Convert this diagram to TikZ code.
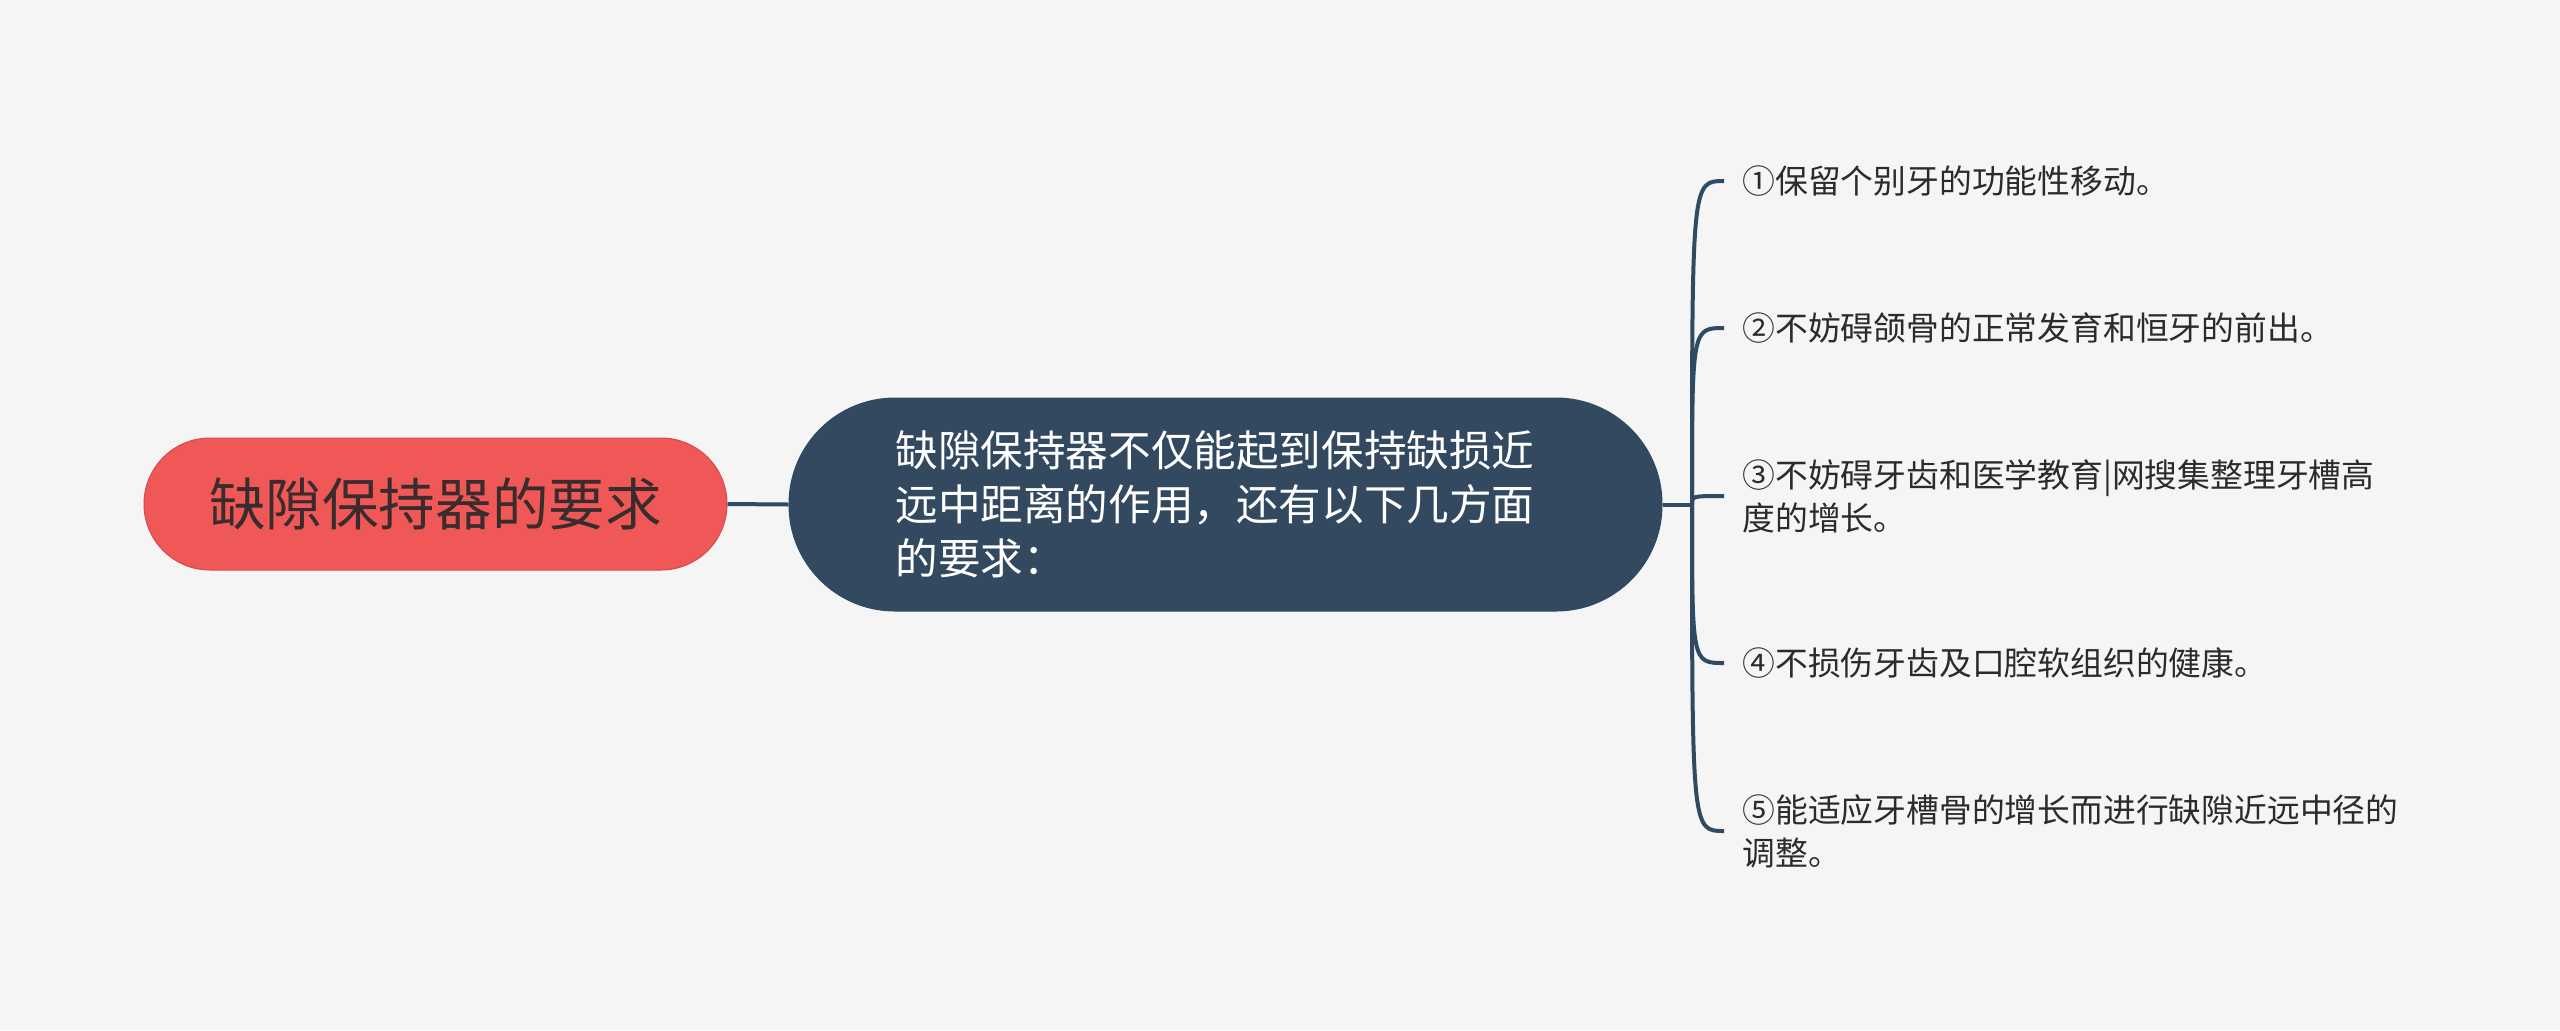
\documentclass[tikz,border=0pt]{standalone}
\usepackage{fontspec}
\setmainfont{Noto Sans CJK SC}
\definecolor{bgc}{HTML}{F5F5F5}
\definecolor{rootfill}{HTML}{F05858}
\definecolor{rootdraw}{HTML}{D94848}
\definecolor{roottext}{HTML}{3A2C2C}
\definecolor{midfill}{HTML}{324960}
\definecolor{linec}{HTML}{2F4A63}
\definecolor{leaftext}{HTML}{2B2B2B}
\begin{document}
\begin{tikzpicture}[x=0.5pt,y=-0.5pt,
  conn/.style={draw=linec,line width=2pt},
  rootbox/.style={rectangle,rounded corners=33pt,fill=rootfill,draw=rootdraw,line width=0.5pt,
    minimum width=291.5pt,minimum height=66pt,inner sep=0pt,text=roottext,
    font=\fontsize{28.3pt}{34pt}\selectfont},
  midbox/.style={rectangle,rounded corners=53pt,fill=midfill,draw=linec,line width=0.5pt,
    minimum width=436.5pt,minimum height=106.5pt,inner sep=0pt,text=white,
    text width=330pt,align=left,font=\fontsize{21.3pt}{27pt}\selectfont},
  leaf/.style={anchor=west,inner sep=0pt,text=leaftext,align=left,
    font=\fontsize{16.4pt}{21.5pt}\selectfont}]
\fill[bgc] (0,0) rectangle (2560,1030);
\useasboundingbox (0,0) rectangle (2560,1030);

\node[rootbox] (root) at (435.5,504) {缺隙保持器的要求};
\node[midbox] (mid) at (1225.5,504.5) {缺隙保持器不仅能起到保持缺损近\\远中距离的作用，还有以下几方面\\的要求：};

\coordinate (J) at (1692,504.5);

\node[leaf] (l1) at (1742,181) {①保留个别牙的功能性移动。};
\node[leaf] (l2) at (1742,328) {②不妨碍颌骨的正常发育和恒牙的前出。};
\node[leaf] (l3) at (1742,496) {③不妨碍牙齿和医学教育|网搜集整理牙槽高\\度的增长。};
\node[leaf] (l4) at (1742,663) {④不损伤牙齿及口腔软组织的健康。};
\node[leaf] (l5) at (1742,831) {⑤能适应牙槽骨的增长而进行缺隙近远中径的\\调整。};

\draw[conn] (root.east) -- (mid.west);
\draw[conn] (mid.east) -- (J);
\foreach \n in {l1,l2,l3,l4,l5}{
  \draw[conn,shorten >=9pt] (J) .. controls (J |- \n.west) and (J |- \n.west) .. (\n.west);
}
\end{tikzpicture}
\end{document}
